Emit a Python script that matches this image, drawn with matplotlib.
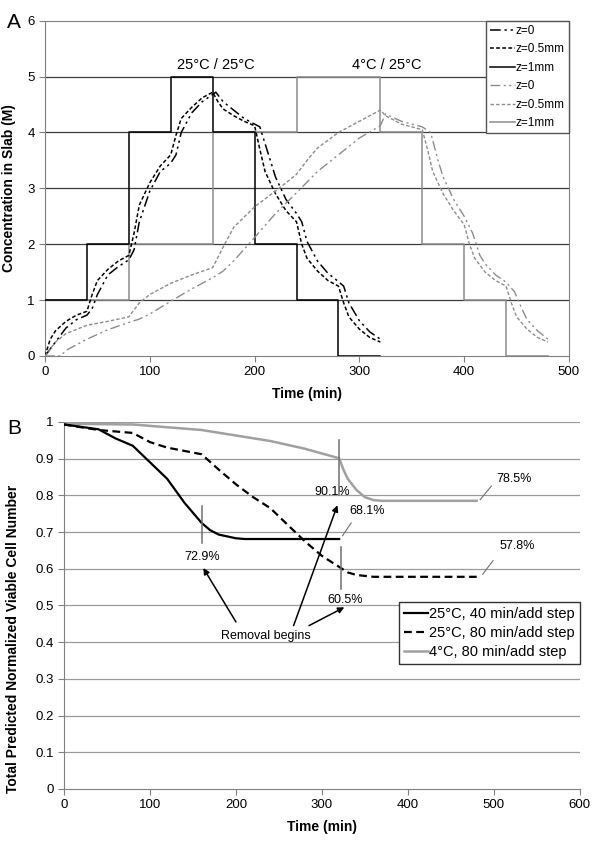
import numpy as np
import matplotlib
matplotlib.use("Agg")
import matplotlib.pyplot as plt

plt.rcParams["font.family"] = ["Liberation Sans", "DejaVu Sans"]

# ---- panel A data ----
step_t_25 = [0, 40, 80, 120, 160, 200, 240, 280, 320]
step_c_25 = [1, 2, 4, 5, 4, 2, 1, 0, 0]
step_t_4 = [0, 80, 160, 240, 320, 360, 400, 440, 480]
step_c_4 = [1, 2, 4, 5, 4, 2, 1, 0, 0]

t_25_z0 = [0, 10, 20, 30, 40, 45, 50, 60, 70, 80, 85, 90, 100, 110, 120, 125, 130, 140, 150, 160, 163,
           170, 180, 190, 200, 205, 210, 220, 230, 240, 245, 250, 260, 270, 280, 285, 290, 300, 310, 320]
c_25_z0 = [0, 0.25, 0.5, 0.65, 0.73, 0.85, 1.1, 1.45, 1.6, 1.72, 1.9, 2.4, 2.95, 3.3, 3.45, 3.6, 4.0, 4.35,
           4.55, 4.68, 4.72, 4.55, 4.4, 4.25, 4.15, 4.1, 3.8, 3.2, 2.8, 2.55, 2.4, 2.05, 1.7, 1.48, 1.33,
           1.25, 0.95, 0.63, 0.43, 0.3]
t_25_z05 = [0, 5, 10, 20, 30, 40, 45, 50, 60, 70, 80, 85, 90, 100, 110, 120, 125, 130, 140, 150, 160,
            165, 170, 180, 190, 200, 205, 210, 220, 230, 240, 245, 250, 260, 270, 280, 285, 290, 300, 310, 320]
c_25_z05 = [0, 0.3, 0.45, 0.62, 0.73, 0.8, 1.1, 1.35, 1.55, 1.7, 1.8, 2.2, 2.7, 3.1, 3.4, 3.6, 3.95, 4.25,
            4.45, 4.62, 4.72, 4.55, 4.42, 4.3, 4.2, 4.12, 3.7, 3.3, 2.9, 2.6, 2.4, 2.0, 1.75, 1.52, 1.35,
            1.25, 0.95, 0.7, 0.48, 0.33, 0.25]

t_4_z0 = [0, 15, 20, 40, 60, 80, 90, 100, 120, 140, 160, 170, 180, 200, 220, 240, 260, 280, 300, 320, 325,
          340, 360, 368, 375, 380, 390, 400, 408, 415, 420, 430, 440, 448, 455, 460, 470, 480]
c_4_z0 = [0, 0.0, 0.1, 0.3, 0.47, 0.6, 0.66, 0.75, 0.98, 1.2, 1.4, 1.52, 1.7, 2.12, 2.55, 2.92, 3.3, 3.6,
          3.9, 4.12, 4.33, 4.2, 4.1, 4.0, 3.5, 3.2, 2.8, 2.5, 2.2, 1.8, 1.65, 1.45, 1.32, 1.15, 0.85, 0.65,
          0.45, 0.3]
t_4_z05 = [0, 10, 20, 40, 60, 80, 90, 100, 120, 140, 160, 170, 180, 200, 220, 240, 250, 260, 280, 300, 320,
           325, 340, 360, 365, 370, 380, 390, 400, 405, 410, 420, 430, 440, 445, 450, 460, 470, 480]
c_4_z05 = [0, 0.25, 0.4, 0.55, 0.62, 0.7, 0.95, 1.1, 1.3, 1.45, 1.58, 1.95, 2.3, 2.67, 2.95, 3.25, 3.5,
           3.72, 4.0, 4.2, 4.4, 4.3, 4.15, 4.05, 3.7, 3.3, 2.9, 2.6, 2.35, 2.0, 1.75, 1.5, 1.35, 1.25, 0.95,
           0.7, 0.48, 0.33, 0.25]

# ---- panel B data ----
t_b_40 = [0, 40, 60, 80, 100, 120, 140, 160, 170, 180, 200, 210, 320]
v_b_40 = [0.993, 0.98, 0.955, 0.935, 0.89, 0.845, 0.78, 0.725, 0.705, 0.693, 0.683, 0.681, 0.681]
t_b_80 = [0, 40, 80, 100, 120, 160, 180, 200, 220, 240, 260, 280, 300, 320, 330, 340, 360, 480]
v_b_80 = [0.993, 0.978, 0.97, 0.945, 0.93, 0.912, 0.87, 0.83, 0.795, 0.765, 0.72, 0.675, 0.635, 0.605,
          0.59, 0.583, 0.578, 0.578]
t_b_4 = [0, 80, 160, 240, 280, 320, 325, 330, 340, 350, 360, 370, 480]
v_b_4 = [0.995, 0.993, 0.978, 0.948, 0.927, 0.901, 0.87, 0.845, 0.815, 0.795, 0.787, 0.785, 0.785]

fig = plt.figure(figsize=(6.04, 8.51), dpi=100)

DD = (0, (7, 2.5, 1.5, 2.5, 1.5, 2.5))
DS = (0, (2.5, 1.5))
GRAY = "#8c8c8c"
SP = "#808080"

# ================= panel A =================
ax = fig.add_axes([0.0745, 0.5817, 0.8675, 0.394])
for y in range(1, 6):
    ax.axhline(y, color="#3c3c3c", lw=0.9, zorder=1)
ax.step(step_t_4, step_c_4, where="post", color=GRAY, lw=1.1, zorder=2)
ax.step(step_t_25, step_c_25, where="post", color="black", lw=1.1, zorder=3)
ax.plot([0, 0], [0, 1], color=GRAY, lw=1.1, zorder=2)
l1, = ax.plot(t_25_z0, c_25_z0, color="black", lw=1.1, ls=DD, zorder=4)
l2, = ax.plot(t_25_z05, c_25_z05, color="black", lw=1.1, ls=DS, zorder=4)
l4, = ax.plot(t_4_z0, c_4_z0, color=GRAY, lw=1.0, ls=DD, zorder=4)
l5, = ax.plot(t_4_z05, c_4_z05, color=GRAY, lw=1.0, ls=DS, zorder=4)
l3, = ax.plot([], [], color="black", lw=1.1)
l6, = ax.plot([], [], color=GRAY, lw=1.1)
ax.set_xlim(0, 500)
ax.set_ylim(0, 6)
ax.set_xticks(range(0, 501, 100))
ax.set_yticks(range(0, 7))
for s in ax.spines.values():
    s.set_color(SP)
ax.tick_params(colors="black", labelsize=9.5, length=4, color=SP)
ax.set_xlabel("Time (min)", fontsize=10, fontweight="bold", labelpad=6)
ax.set_ylabel("Concentration in Slab (M)", fontsize=10, fontweight="bold", labelpad=8)
ax.text(163, 5.2, "25°C / 25°C", ha="center", va="center", fontsize=10.5)
ax.text(326, 5.2, "4°C / 25°C", ha="center", va="center", fontsize=10.5)
leg = ax.legend([l1, l2, l3, l4, l5, l6], ["z=0", "z=0.5mm", "z=1mm", "z=0", "z=0.5mm", "z=1mm"],
                loc="upper right", borderaxespad=0, fontsize=8.5, fancybox=False, framealpha=1,
                edgecolor="#555555", handlelength=2.1, handletextpad=0.1, labelspacing=0.55,
                borderpad=0.35)
leg.get_frame().set_linewidth(1.0)
fig.text(0.012, 0.973, "A", fontsize=15, va="center")

# ================= panel B =================
bx = fig.add_axes([0.106, 0.0729, 0.854, 0.4313])
for y in np.arange(0.1, 1.01, 0.1):
    bx.axhline(y, color="#9a9a9a", lw=0.9, zorder=1)
bx.plot(t_b_4, v_b_4, color="#a0a0a0", lw=1.8, zorder=3, label="4°C, 80 min/add step")
bx.plot(t_b_80, v_b_80, color="black", lw=1.6, ls=(0, (3.5, 2)), zorder=3, label="25°C, 80 min/add step")
bx.plot(t_b_40, v_b_40, color="black", lw=1.6, zorder=3, label="25°C, 40 min/add step")
bx.set_xlim(0, 600)
bx.set_ylim(0, 1)
bx.set_xticks(range(0, 601, 100))
bx.set_yticks(np.round(np.arange(0, 1.01, 0.1), 1))
bx.set_yticklabels(["0", "0.1", "0.2", "0.3", "0.4", "0.5", "0.6", "0.7", "0.8", "0.9", "1"])
bx.spines["top"].set_visible(False)
bx.spines["right"].set_visible(False)
bx.spines["left"].set_color(SP)
bx.spines["bottom"].set_color(SP)
bx.tick_params(colors="black", labelsize=9.5, length=4, color=SP)
bx.set_xlabel("Time (min)", fontsize=10, fontweight="bold", labelpad=6)
bx.set_ylabel("Total Predicted Normalized Viable Cell Number", fontsize=10, fontweight="bold")
bx.yaxis.set_label_coords(-0.085, 0.41)

# marker ticks and value labels
bx.plot([160, 160], [0.67, 0.77], color="#707070", lw=1.1, zorder=4)
bx.plot([320, 320], [0.80, 0.95], color="#707070", lw=1.1, zorder=4)
bx.plot([322, 322], [0.545, 0.66], color="#707070", lw=1.1, zorder=4)
bx.text(161, 0.632, "72.9%", ha="center", va="center", fontsize=9)
bx.text(312, 0.809, "90.1%", ha="center", va="center", fontsize=9)
bx.text(352, 0.757, "68.1%", ha="center", va="center", fontsize=9)
bx.text(327, 0.515, "60.5%", ha="center", va="center", fontsize=9)
bx.text(524, 0.845, "78.5%", ha="center", va="center", fontsize=9)
bx.text(527, 0.662, "57.8%", ha="center", va="center", fontsize=9)
bx.plot([324, 334], [0.69, 0.725], color="#707070", lw=0.8)
bx.plot([484, 497], [0.788, 0.825], color="#707070", lw=0.8)
bx.plot([487, 499], [0.585, 0.622], color="#707070", lw=0.8)

bx.text(235, 0.418, "Removal begins", ha="center", va="center", fontsize=9)
for x0, y0, x1, y1 in [(200, 0.455, 162, 0.602), (267, 0.445, 318, 0.773), (285, 0.445, 326, 0.495)]:
    bx.annotate("", xy=(x1, y1), xytext=(x0, y0),
                arrowprops=dict(arrowstyle="-|>", color="black", lw=1.1, mutation_scale=9,
                                shrinkA=0, shrinkB=0))

h, lab = bx.get_legend_handles_labels()
leg2 = bx.legend(h[::-1], lab[::-1], loc="upper right", bbox_to_anchor=(1.0, 0.51), borderaxespad=0,
                 fontsize=10.5, fancybox=False, framealpha=1, edgecolor="#333333", handlelength=1.6,
                 handletextpad=0.1, labelspacing=0.35, borderpad=0.35)
leg2.get_frame().set_linewidth(1.0)
fig.text(0.012, 0.497, "B", fontsize=15, va="center")

fig.savefig("out.png", dpi=100)
